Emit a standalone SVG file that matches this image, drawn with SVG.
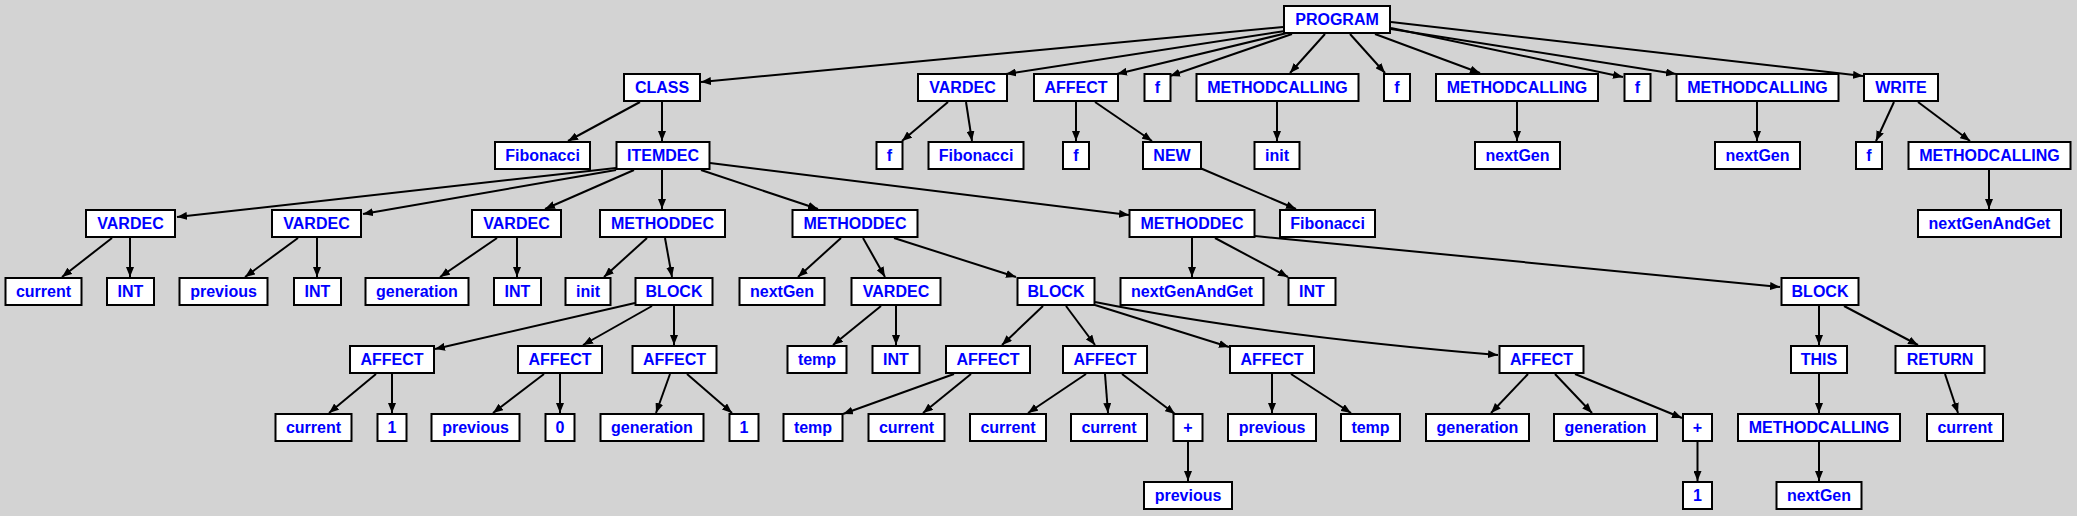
<svg xmlns="http://www.w3.org/2000/svg" width="2077" height="516" viewBox="0 0 2077 516">
<style>
.node rect{fill:#ffffff;stroke:#000000;stroke-width:2}
.node text{font-family:"Liberation Sans",Arial,sans-serif;font-weight:bold;font-size:16px;fill:#0000ff;text-anchor:middle}
#edges line,#edges path{stroke:#000000;stroke-width:2;fill:none;marker-end:url(#arr)}
</style>
<defs>
<marker id="arr" markerUnits="userSpaceOnUse" markerWidth="10" markerHeight="8" refX="10" refY="4" orient="auto">
<path d="M0,0 L10,4 L0,8 z" fill="#000000"/>
</marker>
</defs>
<rect x="0" y="0" width="2077" height="516" fill="#d3d3d3"/>
<g id="edges">
<line x1="1283" y1="27" x2="701" y2="82"/>
<line x1="1285" y1="31" x2="1006" y2="74"/>
<line x1="1287" y1="33" x2="1117" y2="74"/>
<line x1="1292" y1="34" x2="1170" y2="76"/>
<line x1="1325" y1="34" x2="1290" y2="73"/>
<line x1="1350" y1="34" x2="1385" y2="73"/>
<line x1="1375" y1="34" x2="1480" y2="73"/>
<line x1="1391" y1="28" x2="1623" y2="77"/>
<line x1="1391" y1="29" x2="1676" y2="74"/>
<line x1="1391" y1="22" x2="1863" y2="76"/>
<line x1="640" y1="102" x2="568" y2="141"/>
<line x1="662" y1="102" x2="662" y2="141"/>
<line x1="948" y1="102" x2="902" y2="141"/>
<line x1="966" y1="102" x2="972" y2="141"/>
<line x1="1076" y1="102" x2="1076" y2="141"/>
<line x1="1095" y1="102" x2="1152" y2="141"/>
<line x1="1277" y1="102" x2="1277" y2="141"/>
<line x1="1517" y1="102" x2="1517" y2="141"/>
<line x1="1757" y1="102" x2="1757" y2="141"/>
<line x1="1894" y1="102" x2="1876" y2="141"/>
<line x1="1918" y1="102" x2="1970" y2="141"/>
<line x1="616" y1="168" x2="177" y2="217"/>
<line x1="616" y1="170" x2="363" y2="214"/>
<line x1="634" y1="170" x2="545" y2="209"/>
<line x1="662" y1="170" x2="662" y2="209"/>
<line x1="701" y1="170" x2="818" y2="209"/>
<line x1="710" y1="163" x2="1129" y2="215"/>
<line x1="1200" y1="168" x2="1296" y2="209"/>
<line x1="1989" y1="170" x2="1989" y2="209"/>
<line x1="112" y1="238" x2="62" y2="277"/>
<line x1="130" y1="238" x2="130" y2="277"/>
<line x1="298" y1="238" x2="245" y2="277"/>
<line x1="317" y1="238" x2="317" y2="277"/>
<line x1="497" y1="238" x2="440" y2="277"/>
<line x1="517" y1="238" x2="517" y2="277"/>
<line x1="647" y1="238" x2="604" y2="277"/>
<line x1="665" y1="238" x2="672" y2="277"/>
<line x1="841" y1="238" x2="798" y2="277"/>
<line x1="863" y1="238" x2="885" y2="277"/>
<line x1="894" y1="238" x2="1016" y2="277"/>
<line x1="1192" y1="238" x2="1192" y2="277"/>
<line x1="1215" y1="238" x2="1288" y2="277"/>
<line x1="1255" y1="236" x2="1780" y2="287"/>
<line x1="635" y1="303" x2="435" y2="349"/>
<line x1="652" y1="306" x2="583" y2="345"/>
<line x1="674" y1="306" x2="674" y2="345"/>
<line x1="881" y1="306" x2="833" y2="345"/>
<line x1="896" y1="306" x2="896" y2="345"/>
<line x1="1043" y1="306" x2="1002" y2="345"/>
<line x1="1066" y1="306" x2="1095" y2="345"/>
<line x1="1095" y1="305" x2="1229" y2="347"/>
<path d="M1095,302 Q1260,335 1498,355"/>
<line x1="1819" y1="306" x2="1819" y2="345"/>
<line x1="1844" y1="306" x2="1918" y2="345"/>
<line x1="376" y1="374" x2="329" y2="413"/>
<line x1="392" y1="374" x2="392" y2="413"/>
<line x1="544" y1="374" x2="493" y2="413"/>
<line x1="560" y1="374" x2="560" y2="413"/>
<line x1="670" y1="374" x2="656" y2="413"/>
<line x1="687" y1="374" x2="732" y2="413"/>
<line x1="954" y1="374" x2="843" y2="414"/>
<line x1="971" y1="374" x2="923" y2="413"/>
<line x1="1086" y1="374" x2="1028" y2="413"/>
<line x1="1105" y1="374" x2="1108" y2="413"/>
<line x1="1122" y1="374" x2="1175" y2="414"/>
<line x1="1272" y1="374" x2="1272" y2="413"/>
<line x1="1291" y1="374" x2="1351" y2="413"/>
<line x1="1528" y1="374" x2="1491" y2="413"/>
<line x1="1555" y1="374" x2="1592" y2="413"/>
<line x1="1575" y1="374" x2="1682" y2="418"/>
<line x1="1819" y1="374" x2="1819" y2="413"/>
<line x1="1945" y1="374" x2="1958" y2="413"/>
<line x1="1188" y1="442" x2="1188" y2="481"/>
<line x1="1697.5" y1="442" x2="1697.5" y2="481"/>
<line x1="1819" y1="442" x2="1819" y2="481"/>
</g>
<g id="n_program" class="node"><rect x="1284" y="6" width="106" height="27"/><text x="1337" y="24.5">PROGRAM</text></g>
<g id="n_class" class="node"><rect x="624" y="74" width="76" height="27"/><text x="662" y="92.5">CLASS</text></g>
<g id="n_vardec0" class="node"><rect x="918" y="74" width="89" height="27"/><text x="962.5" y="92.5">VARDEC</text></g>
<g id="n_affect0" class="node"><rect x="1034" y="74" width="84" height="27"/><text x="1076" y="92.5">AFFECT</text></g>
<g id="n_f1" class="node"><rect x="1144.5" y="74" width="26" height="27"/><text x="1157.5" y="92.5">f</text></g>
<g id="n_mc1" class="node"><rect x="1196.5" y="74" width="162" height="27"/><text x="1277.5" y="92.5">METHODCALLING</text></g>
<g id="n_f2" class="node"><rect x="1384" y="74" width="26" height="27"/><text x="1397" y="92.5">f</text></g>
<g id="n_mc2" class="node"><rect x="1436" y="74" width="162" height="27"/><text x="1517" y="92.5">METHODCALLING</text></g>
<g id="n_f3" class="node"><rect x="1624.5" y="74" width="26" height="27"/><text x="1637.5" y="92.5">f</text></g>
<g id="n_mc3" class="node"><rect x="1676.5" y="74" width="162" height="27"/><text x="1757.5" y="92.5">METHODCALLING</text></g>
<g id="n_write" class="node"><rect x="1864" y="74" width="74" height="27"/><text x="1901" y="92.5">WRITE</text></g>
<g id="n_fib1" class="node"><rect x="495" y="142" width="95" height="27"/><text x="542.5" y="160.5">Fibonacci</text></g>
<g id="n_itemdec" class="node"><rect x="616.5" y="142" width="93" height="27"/><text x="663" y="160.5">ITEMDEC</text></g>
<g id="n_f4" class="node"><rect x="876.5" y="142" width="26" height="27"/><text x="889.5" y="160.5">f</text></g>
<g id="n_fib2" class="node"><rect x="928.5" y="142" width="95" height="27"/><text x="976" y="160.5">Fibonacci</text></g>
<g id="n_f5" class="node"><rect x="1063" y="142" width="26" height="27"/><text x="1076" y="160.5">f</text></g>
<g id="n_new" class="node"><rect x="1143" y="142" width="58" height="27"/><text x="1172" y="160.5">NEW</text></g>
<g id="n_init1" class="node"><rect x="1254.5" y="142" width="45" height="27"/><text x="1277" y="160.5">init</text></g>
<g id="n_nextgen1" class="node"><rect x="1475" y="142" width="85" height="27"/><text x="1517.5" y="160.5">nextGen</text></g>
<g id="n_nextgen2" class="node"><rect x="1715" y="142" width="85" height="27"/><text x="1757.5" y="160.5">nextGen</text></g>
<g id="n_f6" class="node"><rect x="1856" y="142" width="26" height="27"/><text x="1869" y="160.5">f</text></g>
<g id="n_mc4" class="node"><rect x="1908.5" y="142" width="162" height="27"/><text x="1989.5" y="160.5">METHODCALLING</text></g>
<g id="n_vardec1" class="node"><rect x="86" y="210" width="89" height="27"/><text x="130.5" y="228.5">VARDEC</text></g>
<g id="n_vardec2" class="node"><rect x="272" y="210" width="89" height="27"/><text x="316.5" y="228.5">VARDEC</text></g>
<g id="n_vardec3" class="node"><rect x="472" y="210" width="89" height="27"/><text x="516.5" y="228.5">VARDEC</text></g>
<g id="n_md1" class="node"><rect x="600" y="210" width="125" height="27"/><text x="662.5" y="228.5">METHODDEC</text></g>
<g id="n_md2" class="node"><rect x="792.5" y="210" width="125" height="27"/><text x="855" y="228.5">METHODDEC</text></g>
<g id="n_md3" class="node"><rect x="1129.5" y="210" width="125" height="27"/><text x="1192" y="228.5">METHODDEC</text></g>
<g id="n_fib3" class="node"><rect x="1280" y="210" width="95" height="27"/><text x="1327.5" y="228.5">Fibonacci</text></g>
<g id="n_ngag1" class="node"><rect x="1918" y="210" width="143" height="27"/><text x="1989.5" y="228.5">nextGenAndGet</text></g>
<g id="n_current1" class="node"><rect x="5.5" y="278" width="76" height="27"/><text x="43.5" y="296.5">current</text></g>
<g id="n_int1" class="node"><rect x="107" y="278" width="47" height="27"/><text x="130.5" y="296.5">INT</text></g>
<g id="n_previous1" class="node"><rect x="179.5" y="278" width="88" height="27"/><text x="223.5" y="296.5">previous</text></g>
<g id="n_int2" class="node"><rect x="294" y="278" width="47" height="27"/><text x="317.5" y="296.5">INT</text></g>
<g id="n_generation1" class="node"><rect x="365.5" y="278" width="103" height="27"/><text x="417" y="296.5">generation</text></g>
<g id="n_int3" class="node"><rect x="494" y="278" width="47" height="27"/><text x="517.5" y="296.5">INT</text></g>
<g id="n_init2" class="node"><rect x="565.5" y="278" width="45" height="27"/><text x="588" y="296.5">init</text></g>
<g id="n_block1" class="node"><rect x="635.5" y="278" width="77" height="27"/><text x="674" y="296.5">BLOCK</text></g>
<g id="n_nextgen3" class="node"><rect x="739.5" y="278" width="85" height="27"/><text x="782" y="296.5">nextGen</text></g>
<g id="n_vardec4" class="node"><rect x="851.5" y="278" width="89" height="27"/><text x="896" y="296.5">VARDEC</text></g>
<g id="n_block2" class="node"><rect x="1017.5" y="278" width="77" height="27"/><text x="1056" y="296.5">BLOCK</text></g>
<g id="n_ngag2" class="node"><rect x="1120.5" y="278" width="143" height="27"/><text x="1192" y="296.5">nextGenAndGet</text></g>
<g id="n_int4" class="node"><rect x="1288.5" y="278" width="47" height="27"/><text x="1312" y="296.5">INT</text></g>
<g id="n_block3" class="node"><rect x="1781.5" y="278" width="77" height="27"/><text x="1820" y="296.5">BLOCK</text></g>
<g id="n_affect1" class="node"><rect x="350" y="346" width="84" height="27"/><text x="392" y="364.5">AFFECT</text></g>
<g id="n_affect2" class="node"><rect x="518" y="346" width="84" height="27"/><text x="560" y="364.5">AFFECT</text></g>
<g id="n_affect3" class="node"><rect x="632.5" y="346" width="84" height="27"/><text x="674.5" y="364.5">AFFECT</text></g>
<g id="n_temp1" class="node"><rect x="787.5" y="346" width="59" height="27"/><text x="817" y="364.5">temp</text></g>
<g id="n_int5" class="node"><rect x="872.5" y="346" width="47" height="27"/><text x="896" y="364.5">INT</text></g>
<g id="n_affect4" class="node"><rect x="946" y="346" width="84" height="27"/><text x="988" y="364.5">AFFECT</text></g>
<g id="n_affect5" class="node"><rect x="1063" y="346" width="84" height="27"/><text x="1105" y="364.5">AFFECT</text></g>
<g id="n_affect6" class="node"><rect x="1230" y="346" width="84" height="27"/><text x="1272" y="364.5">AFFECT</text></g>
<g id="n_affect7" class="node"><rect x="1499.5" y="346" width="84" height="27"/><text x="1541.5" y="364.5">AFFECT</text></g>
<g id="n_this" class="node"><rect x="1791" y="346" width="56" height="27"/><text x="1819" y="364.5">THIS</text></g>
<g id="n_return" class="node"><rect x="1895.5" y="346" width="89" height="27"/><text x="1940" y="364.5">RETURN</text></g>
<g id="n_current2" class="node"><rect x="275.5" y="414" width="76" height="27"/><text x="313.5" y="432.5">current</text></g>
<g id="n_one1" class="node"><rect x="377.5" y="414" width="29" height="27"/><text x="392" y="432.5">1</text></g>
<g id="n_previous2" class="node"><rect x="431.5" y="414" width="88" height="27"/><text x="475.5" y="432.5">previous</text></g>
<g id="n_zero" class="node"><rect x="545.5" y="414" width="29" height="27"/><text x="560" y="432.5">0</text></g>
<g id="n_generation2" class="node"><rect x="600.5" y="414" width="103" height="27"/><text x="652" y="432.5">generation</text></g>
<g id="n_one2" class="node"><rect x="729.5" y="414" width="29" height="27"/><text x="744" y="432.5">1</text></g>
<g id="n_temp2" class="node"><rect x="783.5" y="414" width="59" height="27"/><text x="813" y="432.5">temp</text></g>
<g id="n_current3" class="node"><rect x="868.5" y="414" width="76" height="27"/><text x="906.5" y="432.5">current</text></g>
<g id="n_current4" class="node"><rect x="970" y="414" width="76" height="27"/><text x="1008" y="432.5">current</text></g>
<g id="n_current5" class="node"><rect x="1071" y="414" width="76" height="27"/><text x="1109" y="432.5">current</text></g>
<g id="n_plus1" class="node"><rect x="1173.5" y="414" width="29" height="27"/><text x="1188" y="432.5">+</text></g>
<g id="n_previous3" class="node"><rect x="1228" y="414" width="88" height="27"/><text x="1272" y="432.5">previous</text></g>
<g id="n_temp3" class="node"><rect x="1341" y="414" width="59" height="27"/><text x="1370.5" y="432.5">temp</text></g>
<g id="n_generation3" class="node"><rect x="1426" y="414" width="103" height="27"/><text x="1477.5" y="432.5">generation</text></g>
<g id="n_generation4" class="node"><rect x="1554" y="414" width="103" height="27"/><text x="1605.5" y="432.5">generation</text></g>
<g id="n_plus2" class="node"><rect x="1683" y="414" width="29" height="27"/><text x="1697.5" y="432.5">+</text></g>
<g id="n_mc5" class="node"><rect x="1738" y="414" width="162" height="27"/><text x="1819" y="432.5">METHODCALLING</text></g>
<g id="n_current6" class="node"><rect x="1927" y="414" width="76" height="27"/><text x="1965" y="432.5">current</text></g>
<g id="n_previous4" class="node"><rect x="1144" y="482" width="88" height="27"/><text x="1188" y="500.5">previous</text></g>
<g id="n_one3" class="node"><rect x="1683" y="482" width="29" height="27"/><text x="1697.5" y="500.5">1</text></g>
<g id="n_nextgen4" class="node"><rect x="1776.5" y="482" width="85" height="27"/><text x="1819" y="500.5">nextGen</text></g>
</svg>
